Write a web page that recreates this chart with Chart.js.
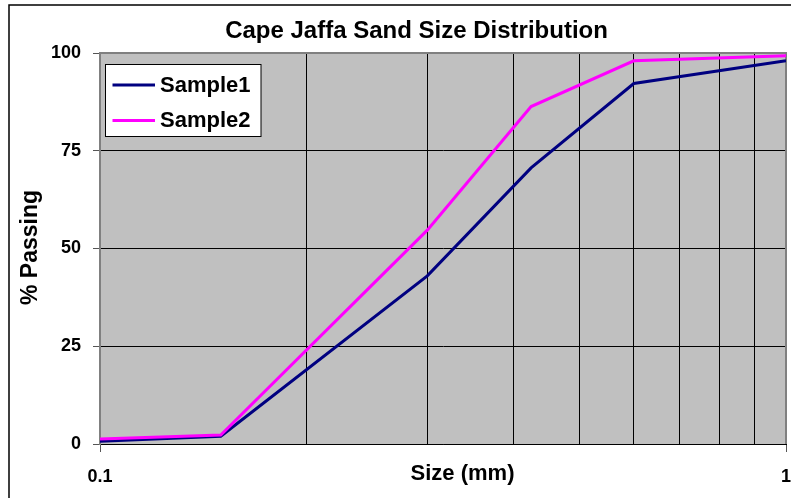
<!DOCTYPE html>
<html>
<head>
<meta charset="utf-8">
<script src="https://cdn.jsdelivr.net/npm/chart.js@4"></script>
<style>
html,body{margin:0;padding:0;background:#fff;}
#wrap{position:relative;width:791px;height:498px;}
</style>
</head>
<body>
<div id="wrap"><canvas id="c"></canvas></div>
<script>
const sizes = [0.1, 0.15, 0.3, 0.425, 0.6, 1.0];
const sample1 = [0.7, 2.0, 43.0, 70.6, 92.2, 98.0];
const sample2 = [1.3, 2.3, 54.7, 86.3, 98.0, 99.3];
const xTickValues = [0.1, 0.2, 0.3, 0.4, 0.5, 0.6, 0.7, 0.8, 0.9, 1];
const xTickLabels = ['0.1', '', '', '', '', '', '', '', '', '1'];
const yTickValues = [0, 25, 50, 75, 100];
const seriesNames = ['Sample1', 'Sample2'];
const titleText = 'Cape Jaffa Sand Size Distribution';
const xTitle = 'Size (mm)';
const yTitle = '% Passing';

const FONT = '"Liberation Sans", Arial, sans-serif';
const colors = ['#000080', '#FF00FF'];

const extras = {
  id: 'extras',
  beforeDraw(chart) {
    const {ctx, chartArea: a} = chart;
    ctx.save();
    ctx.fillStyle = '#C0C0C0';
    ctx.fillRect(a.left, a.top, a.right - a.left, a.bottom - a.top);
    ctx.restore();
  },
  beforeDatasetsDraw(chart) {
    const {ctx, chartArea: a} = chart;
    ctx.save();
    ctx.strokeStyle = '#808080';
    ctx.lineWidth = 2;
    ctx.beginPath();
    ctx.moveTo(a.left, a.top);
    ctx.lineTo(a.right, a.top);
    ctx.lineTo(a.right, a.bottom);
    ctx.stroke();
    ctx.restore();
  },
  afterDraw(chart) {
    const ctx = chart.ctx;
    ctx.save();
    ctx.strokeStyle = '#000';
    ctx.lineWidth = 1.5;
    ctx.strokeRect(9, 5, 900, 900);
    ctx.fillStyle = '#000';
    ctx.font = 'bold 24px ' + FONT;
    ctx.textAlign = 'center';
    ctx.textBaseline = 'alphabetic';
    ctx.fillText(titleText, 416.5, 37.5);
    ctx.font = 'bold 22px ' + FONT;
    ctx.fillText(xTitle, 462.5, 480);
    ctx.save();
    ctx.translate(37, 247.5);
    ctx.rotate(-Math.PI / 2);
    ctx.font = 'bold 23px ' + FONT;
    ctx.fillText(yTitle, 0, 0);
    ctx.restore();
    ctx.fillStyle = '#fff';
    ctx.fillRect(105.5, 64.5, 155.5, 72);
    ctx.strokeStyle = '#000';
    ctx.lineWidth = 1;
    ctx.strokeRect(105.5, 64.5, 155.5, 72);
    const ly = [85, 120.5];
    const ty = [91.5, 127];
    chart.data.datasets.forEach((ds, i) => {
      ctx.strokeStyle = ds.borderColor;
      ctx.lineWidth = 3;
      ctx.beginPath();
      ctx.moveTo(112.5, ly[i]);
      ctx.lineTo(155, ly[i]);
      ctx.stroke();
      ctx.fillStyle = '#000';
      ctx.font = 'bold 22px ' + FONT;
      ctx.textAlign = 'left';
      ctx.fillText(ds.label, 160, ty[i]);
    });
    ctx.restore();
  }
};

new Chart(document.getElementById('c'), {
  type: 'line',
  plugins: [extras],
  data: {
    datasets: [
      {
        label: seriesNames[0],
        data: sizes.map((s, i) => ({x: s, y: sample1[i]})),
        borderColor: colors[0],
        backgroundColor: colors[0],
        borderWidth: 3,
        pointRadius: 0,
        tension: 0,
        order: 2
      },
      {
        label: seriesNames[1],
        data: sizes.map((s, i) => ({x: s, y: sample2[i]})),
        borderColor: colors[1],
        backgroundColor: colors[1],
        borderWidth: 3,
        pointRadius: 0,
        tension: 0,
        order: 1
      }
    ]
  },
  options: {
    responsive: true,
    maintainAspectRatio: false,
    animation: false,
    events: [],
    layout: {padding: {top: 53, right: 5, left: 0, bottom: 0}},
    plugins: {
      legend: {display: false},
      title: {display: false},
      tooltip: {enabled: false}
    },
    scales: {
      x: {
        type: 'logarithmic',
        position: 'bottom',
        min: 0.1,
        max: 1,
        afterBuildTicks: s => { s.ticks = xTickValues.map(v => ({value: v})); },
        afterFit: s => { s.height = 54; s.paddingLeft = 0; s.paddingRight = 0; },
        ticks: {
          autoSkip: false,
          maxRotation: 0,
          minRotation: 0,
          padding: 14,
          color: '#000',
          font: {family: FONT, size: 18, weight: 'bold'},
          callback: (v, i) => xTickLabels[i]
        },
        grid: {
          color: ctx => (ctx.tick && xTickLabels[ctx.index] === '' ? '#000' : 'rgba(0,0,0,0)'),
          tickColor: ctx => (ctx.tick && xTickLabels[ctx.index] !== '' ? '#555' : 'rgba(0,0,0,0)'),
          lineWidth: 1,
          tickLength: 8,
          drawTicks: true
        },
        border: {color: '#000', width: 1}
      },
      y: {
        min: 0,
        max: 100,
        afterBuildTicks: s => { s.ticks = yTickValues.map(v => ({value: v})); },
        afterFit: s => { s.width = 100; },
        ticks: {
          padding: 12,
          color: '#000',
          font: {family: FONT, size: 18, weight: 'bold'}
        },
        grid: {
          color: '#000',
          tickColor: '#555',
          lineWidth: 1,
          tickLength: 7
        },
        border: {color: '#808080', width: 2}
      }
    }
  }
});
</script>
</body>
</html>
